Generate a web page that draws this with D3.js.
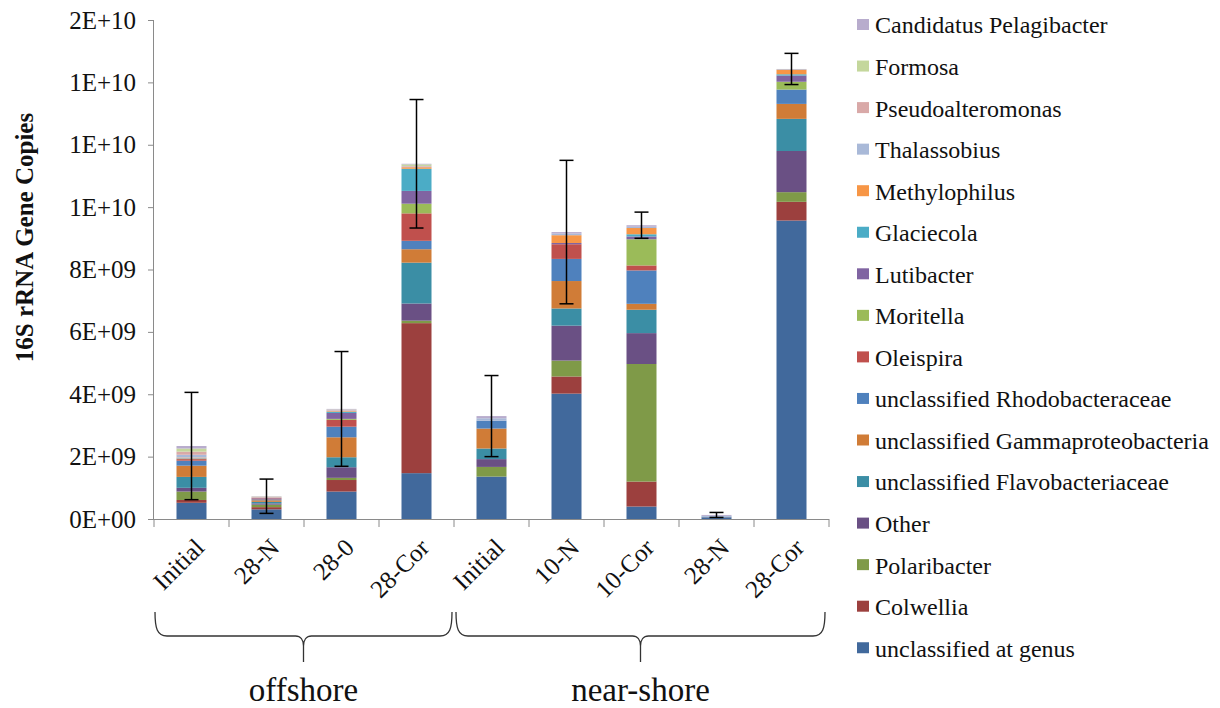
<!DOCTYPE html>
<html>
<head>
<meta charset="utf-8">
<script src="https://cdn.jsdelivr.net/npm/d3@7"></script>
<style>
  body { margin: 0; background: #ffffff; }
  svg { display: block; }
</style>
</head>
<body>
<svg id="chart" width="1220" height="708" font-family="Liberation Serif, Times New Roman, serif"></svg>
<script>
// ---- data (values in 16S rRNA gene copies, x1e9) ----
const sampleLabels = ["Initial", "28-N", "28-0", "28-Cor", "Initial", "10-N", "10-Cor", "28-N", "28-Cor"];
const groups = ["offshore", "near-shore"];
const groupSizes = [4, 5];

// series listed bottom-to-top of the stack
const seriesNames = [
  "unclassified at genus", "Colwellia", "Polaribacter", "Other",
  "unclassified Flavobacteriaceae", "unclassified Gammaproteobacteria",
  "unclassified Rhodobacteraceae", "Oleispira", "Moritella", "Lutibacter",
  "Glaciecola", "Methylophilus", "Thalassobius", "Pseudoalteromonas",
  "Formosa", "Candidatus Pelagibacter"
];
const seriesColors = [
  "#41699c", "#9c403e", "#7f9a48", "#6a5084",
  "#3b8ea5", "#d07c37", "#4f81bd", "#c0504d",
  "#9bbb59", "#8064a2", "#4bacc6", "#f79646",
  "#a9b9d8", "#d9a9a8", "#c4d79c", "#b8accd"
];

const unclassifiedGenus = [0.52, 0.31, 0.88, 1.47, 1.36, 4.02, 0.40, 0.05, 9.57];
const colwellia         = [0.09, 0.07, 0.37, 4.81, 0.00, 0.55, 0.80, 0.00, 0.60];
const polaribacter      = [0.27, 0.08, 0.07, 0.08, 0.31, 0.51, 3.77, 0.00, 0.31];
const other             = [0.12, 0.04, 0.34, 0.55, 0.25, 1.12, 0.99, 0.01, 1.32];
const flavobacteriaceae = [0.35, 0.05, 0.32, 1.31, 0.34, 0.55, 0.75, 0.01, 1.03];
const gammaproteo       = [0.36, 0.05, 0.64, 0.43, 0.64, 0.88, 0.19, 0.00, 0.48];
const rhodobacteraceae  = [0.16, 0.03, 0.34, 0.27, 0.25, 0.71, 1.07, 0.01, 0.46];
const oleispira         = [0.05, 0.03, 0.22, 0.88, 0.00, 0.47, 0.16, 0.00, 0.00];
const moritella         = [0.01, 0.00, 0.03, 0.31, 0.00, 0.00, 0.84, 0.00, 0.25];
const lutibacter        = [0.01, 0.02, 0.19, 0.41, 0.00, 0.04, 0.09, 0.00, 0.20];
const glaciecola        = [0.01, 0.00, 0.04, 0.71, 0.00, 0.00, 0.07, 0.00, 0.04];
const methylophilus     = [0.02, 0.01, 0.02, 0.05, 0.00, 0.25, 0.20, 0.00, 0.15];
const thalassobius      = [0.09, 0.01, 0.02, 0.02, 0.08, 0.05, 0.04, 0.02, 0.02];
const pseudoalteromonas = [0.10, 0.01, 0.02, 0.02, 0.00, 0.00, 0.00, 0.00, 0.00];
const formosa           = [0.10, 0.01, 0.01, 0.05, 0.00, 0.00, 0.00, 0.00, 0.00];
const pelagibacter      = [0.08, 0.01, 0.02, 0.02, 0.07, 0.05, 0.05, 0.03, 0.00];

const errorHalf = [1.72, 0.55, 1.84, 2.06, 1.30, 2.30, 0.42, 0.08, 0.50];

const yTickValues = [0, 2, 4, 6, 8, 10, 12, 14, 16];
const yTickLabels = ["0E+00", "2E+09", "4E+09", "6E+09", "8E+09", "1E+10", "1E+10", "1E+10", "2E+10"];

const seriesValues = [unclassifiedGenus, colwellia, polaribacter, other, flavobacteriaceae,
  gammaproteo, rhodobacteraceae, oleispira, moritella, lutibacter, glaciecola,
  methylophilus, thalassobius, pseudoalteromonas, formosa, pelagibacter];

// ---- build table ----
const ids = sampleLabels.map((d, i) => i);
const table = ids.map(i => {
  const row = { id: i };
  seriesNames.forEach((s, k) => row[s] = seriesValues[k][i]);
  return row;
});
const stacked = d3.stack().keys(seriesNames)(table);
const totals = ids.map(i => d3.sum(seriesValues, v => v[i]));

// ---- layout ----
const FONT = '"Liberation Serif", "Times New Roman", serif';
const svg = d3.select("#chart");
const plot = { left: 154, right: 829, top: 20, bottom: 519 };

const x = d3.scaleBand().domain(ids).range([plot.left, plot.right])
  .paddingInner(0.6).paddingOuter(0.3);
const y = d3.scaleLinear().domain([0, 16]).range([plot.bottom, plot.top]);
const color = d3.scaleOrdinal().domain(seriesNames).range(seriesColors);

// bars
svg.append("g").selectAll("g").data(stacked).join("g")
  .attr("fill", d => color(d.key))
  .selectAll("rect").data(d => d).join("rect")
  .attr("x", d => x(d.data.id))
  .attr("width", x.bandwidth())
  .attr("y", d => y(d[1]))
  .attr("height", d => Math.max(0, y(d[0]) - y(d[1])));

// axes
const axisColor = "#8a8a8a";
const yAxis = svg.append("g").attr("transform", `translate(${plot.left},0)`)
  .call(d3.axisLeft(y).tickValues(yTickValues).tickSize(6).tickFormat((d, i) => yTickLabels[i]));
yAxis.attr("font-family", FONT);
yAxis.select(".domain").attr("stroke", axisColor).attr("d", `M-0.5,${plot.top}V${plot.bottom}`);
yAxis.selectAll(".tick line").attr("stroke", axisColor);
yAxis.selectAll(".tick text").attr("x", -18).attr("font-size", 25).attr("fill", "#111");

// x axis line + boundary ticks
const step = x.step();
const boundaries = d3.range(ids.length + 1).map(i =>
  i < ids.length ? x(i) + x.bandwidth() / 2 - step / 2 : x(ids.length - 1) + x.bandwidth() / 2 + step / 2);
const xAxisG = svg.append("g");
xAxisG.append("line").attr("x1", plot.left).attr("x2", boundaries[boundaries.length - 1])
  .attr("y1", plot.bottom + 0.5).attr("y2", plot.bottom + 0.5).attr("stroke", axisColor);
xAxisG.selectAll("line.tk").data(boundaries).join("line").attr("class", "tk")
  .attr("x1", d => d).attr("x2", d => d)
  .attr("y1", plot.bottom).attr("y2", plot.bottom + 8).attr("stroke", axisColor);

// x labels
svg.append("g").selectAll("text").data(ids).join("text")
  .attr("transform", d => `translate(${x(d) + x.bandwidth() / 2 + 8},${plot.bottom + 24}) rotate(-45)`)
  .attr("text-anchor", "end").attr("dy", "0.35em")
  .attr("font-family", FONT).attr("font-size", 25).attr("fill", "#111")
  .text(d => sampleLabels[d]);

// error bars
const eb = svg.append("g").attr("stroke", "#000").attr("stroke-width", 1.5);
ids.forEach(i => {
  const cx = x(i) + x.bandwidth() / 2;
  const top = y(totals[i] + errorHalf[i]);
  const bot = y(Math.max(0, totals[i] - errorHalf[i]));
  eb.append("line").attr("x1", cx).attr("x2", cx).attr("y1", top).attr("y2", bot);
  eb.append("line").attr("x1", cx - 7).attr("x2", cx + 7).attr("y1", top).attr("y2", top);
  eb.append("line").attr("x1", cx - 7).attr("x2", cx + 7).attr("y1", bot).attr("y2", bot);
});

// y title
svg.append("text")
  .attr("transform", `translate(33,${(plot.top + plot.bottom) / 2 - 32}) rotate(-90)`)
  .attr("text-anchor", "middle").attr("font-weight", "bold").attr("font-size", 25)
  .attr("font-family", FONT).attr("fill", "#111")
  .text("16S rRNA Gene Copies");

// braces and group labels
let start = 0;
const braceTop = 612, braceLine = 636, braceTip = 662;
groups.forEach((g, gi) => {
  const x0 = boundaries[start] + (gi === 0 ? 1 : 2);
  const x1 = boundaries[start + groupSizes[gi]] - (gi === 0 ? 2 : 4);
  const mid = (x0 + x1) / 2;
  const p = d3.path();
  p.moveTo(x0, braceTop);
  p.bezierCurveTo(x0, braceLine - 8, x0 + 2, braceLine, x0 + 12, braceLine);
  p.lineTo(mid - 8, braceLine);
  p.bezierCurveTo(mid - 3, braceLine, mid, braceLine + 4, mid, braceLine + 10);
  p.lineTo(mid, braceTip);
  p.moveTo(mid, braceLine + 10);
  p.bezierCurveTo(mid, braceLine + 4, mid + 3, braceLine, mid + 8, braceLine);
  p.lineTo(x1 - 12, braceLine);
  p.bezierCurveTo(x1 - 2, braceLine, x1, braceLine - 8, x1, braceTop);
  svg.append("path").attr("d", p.toString()).attr("fill", "none")
    .attr("stroke", "#333").attr("stroke-width", 1.3);
  svg.append("text").attr("x", mid).attr("y", 701).attr("text-anchor", "middle")
    .attr("font-family", FONT).attr("font-size", 33).attr("fill", "#111").text(g);
  start += groupSizes[gi];
});

// legend (top-to-bottom reverse of stack)
const legendItems = seriesNames.slice().reverse();
const lg = svg.append("g");
legendItems.forEach((name, i) => {
  const cy = 25 + i * 41.55;
  lg.append("rect").attr("x", 857).attr("y", cy - 6).attr("width", 12).attr("height", 11)
    .attr("fill", color(name));
  lg.append("text").attr("x", 875).attr("y", cy).attr("dy", "0.35em")
    .attr("font-family", FONT).attr("font-size", 24).attr("fill", "#111").text(name);
});
</script>
</body>
</html>
